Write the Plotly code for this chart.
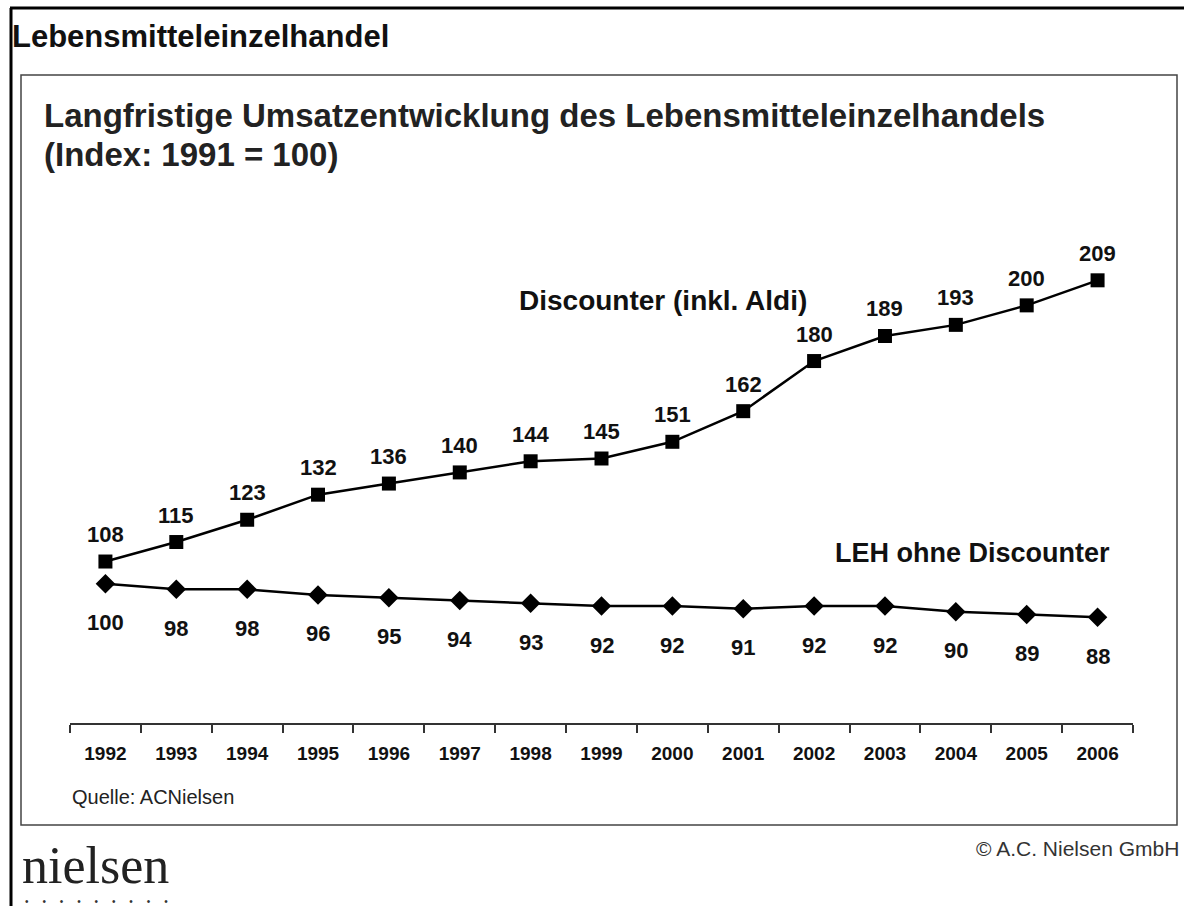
import plotly.graph_objects as go

years = ["1992", "1993", "1994", "1995", "1996", "1997", "1998", "1999",
         "2000", "2001", "2002", "2003", "2004", "2005", "2006"]
discounter = [108, 115, 123, 132, 136, 140, 144, 145, 151, 162, 180, 189, 193, 200, 209]
leh = [100, 98, 98, 96, 95, 94, 93, 92, 92, 91, 92, 92, 90, 89, 88]

W, H = 1184, 906
PX0, PX1, PY0, PY1 = 70, 1133, 194, 723


def px(x):
    return (x - PX0) / (PX1 - PX0)


def py(y):
    return (PY1 - y) / (PY1 - PY0)


FONT = "Liberation Sans, Arial, sans-serif"

fig = go.Figure()
fig.add_trace(go.Scatter(
    x=years, y=discounter, mode="lines+markers", name="Discounter (inkl. Aldi)",
    line=dict(color="black", width=2.5),
    marker=dict(symbol="square", size=14, color="black"),
    cliponaxis=False, hoverinfo="x+y"))
fig.add_trace(go.Scatter(
    x=years, y=leh, mode="lines+markers", name="LEH ohne Discounter",
    line=dict(color="black", width=2.5),
    marker=dict(symbol="diamond", size=15, color="black"),
    cliponaxis=False, hoverinfo="x+y"))

ann = []
for i, yv in enumerate(discounter):
    ann.append(dict(x=i, y=yv, xref="x", yref="y", text=f"<b>{yv}</b>",
                    showarrow=False, yshift=27, xanchor="center", yanchor="middle",
                    font=dict(family=FONT, size=22, color="#111")))
for i, yv in enumerate(leh):
    ann.append(dict(x=i, y=yv, xref="x", yref="y", text=f"<b>{yv}</b>",
                    showarrow=False, yshift=-39, xanchor="center", yanchor="middle",
                    font=dict(family=FONT, size=22, color="#111")))


def label(xp, yp, text, size, anchor="left", family=FONT, color="#111"):
    ann.append(dict(x=px(xp), y=py(yp), xref="paper", yref="paper",
                    xanchor=anchor, yanchor="middle", text=text, showarrow=False,
                    font=dict(family=family, size=size, color=color)))


# series labels
label(663, 300, "<b>Discounter (inkl. Aldi)</b>", 28, "center")
label(1112, 553, "<b>LEH ohne Discounter</b>", 27, "right")

# headings and footers
label(10, 36, "<b>Lebensmitteleinzelhandel</b>", 31)
label(42, 116, "<b>Langfristige Umsatzentwicklung des Lebensmitteleinzelhandels</b>", 33, color="#222")
label(42, 155, "<b>(Index: 1991 = 100)</b>", 33, color="#222")
label(70, 797, "Quelle: ACNielsen", 20, color="#222")
label(1181, 848, "© A.C. Nielsen GmbH", 21, "right", color="#333")
label(20, 865, "nielsen", 52, family="Liberation Serif, Times New Roman, serif", color="#222")
dots = ("\u2022" + "\u00a0" * 5) * 8 + "\u2022"
label(23, 901, dots, 10, color="#333")

shapes = [
    dict(type="line", xref="paper", yref="paper", x0=px(10), x1=px(1184), y0=py(8), y1=py(8),
         line=dict(color="black", width=3)),
    dict(type="line", xref="paper", yref="paper", x0=px(11), x1=px(11), y0=py(8), y1=py(906),
         line=dict(color="black", width=3)),
    dict(type="rect", xref="paper", yref="paper", x0=px(21), x1=px(1177), y0=py(75), y1=py(825),
         line=dict(color="#444", width=1.5)),
]

fig.update_layout(
    width=W, height=H,
    margin=dict(l=PX0, r=W - PX1, t=PY0, b=H - PY1),
    paper_bgcolor="white", plot_bgcolor="white",
    showlegend=False,
    annotations=ann, shapes=shapes,
    xaxis=dict(type="category", range=[-0.5, 14.5], showgrid=False, zeroline=False,
               showline=True, linecolor="#333", linewidth=2,
               ticks="outside", tickson="boundaries", ticklen=8, tickwidth=1.5, tickcolor="#333",
               ticklabelstandoff=12,
               tickfont=dict(family=FONT, size=19, color="#111", weight="bold")),
    yaxis=dict(range=[50, 240], visible=False, showgrid=False, zeroline=False),
)

fig.write_html("out.html", config={"displayModeBar": False},
               post_script="document.body.style.margin='0';document.body.style.overflow='hidden';")
